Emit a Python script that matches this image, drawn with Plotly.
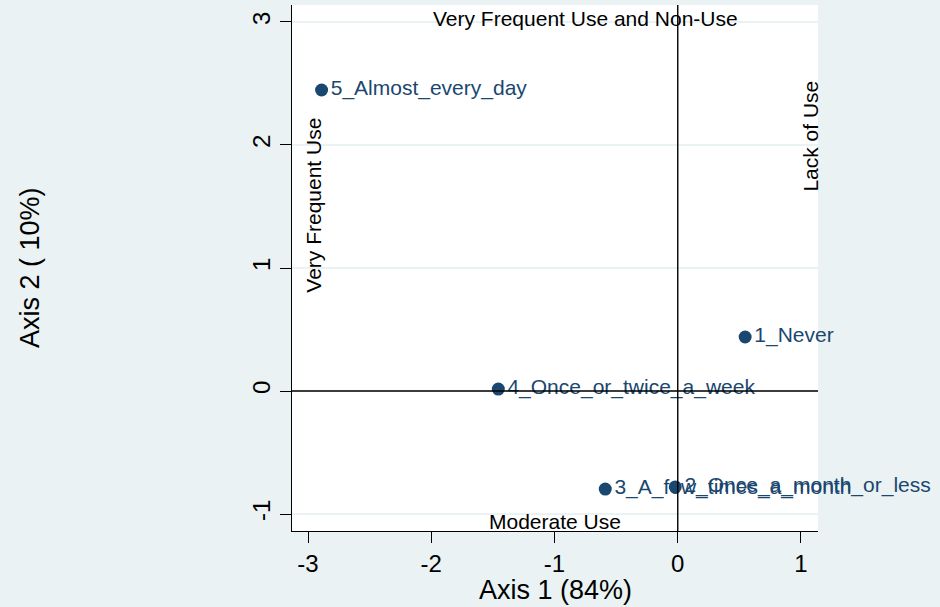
import plotly.graph_objects as go

categories = ["1_Never", "2_Once_a_month_or_less", "3_A_few_times_a_month",
              "4_Once_or_twice_a_week", "5_Almost_every_day"]
axis1 = [0.547, -0.02, -0.588, -1.456, -2.89]
axis2 = [0.439, -0.78, -0.797, 0.016, 2.447]
x_ticks = [-3, -2, -1, 0, 1]
x_ticktext = ["-3", "-2", "-1", "0", "1"]
y_ticks = [-1, 0, 1, 2, 3]
y_ticktext = ["-1", "0", "1", "2", "3"]

navy = "#1a476f"
bg = "#eaf2f3"
font = "Liberation Sans, Arial, sans-serif"

fig = go.Figure()
fig.add_trace(go.Scatter(
    x=axis1, y=axis2, mode="markers+text", text=categories,
    textposition="middle right", cliponaxis=False,
    marker=dict(color=navy, size=13),
    textfont=dict(color=navy, size=21, family=font),
    showlegend=False,
))

fig.add_hline(y=0, line=dict(color="black", width=1.4))
fig.add_vline(x=0, line=dict(color="black", width=1.4))

fig.update_xaxes(range=[-3.13, 1.138], tickvals=x_ticks, ticktext=x_ticktext, showgrid=False,
                 zeroline=False, automargin=False,
                 showline=True, linecolor="black", linewidth=1.4, ticks="outside",
                 ticklen=11, tickcolor="black", tickfont=dict(size=24, family=font, color="black"))
fig.update_yaxes(range=[-1.138, 3.138], tickvals=y_ticks, ticktext=y_ticktext, showgrid=True,
                 gridcolor=bg, gridwidth=2, automargin=False,
                 zeroline=False, showline=True, linecolor="black", linewidth=1.4, ticks="outside",
                 ticklen=11, tickcolor="black", tickangle=-90,
                 tickfont=dict(size=24, family=font, color="black"))

txt = dict(size=21, family=font, color="black")
annots = [
    dict(x=(555 - 677.5) / 123.3, y=-(590 - 531) / 526, xref="x", yref="paper",
         text="Axis 1 (84%)", showarrow=False, xanchor="center", yanchor="middle",
         font=dict(size=27, family=font, color="black")),
    dict(x=-(292 - 30) / 526, y=0.5, xref="paper", yref="paper", text="Axis 2 ( 10%)",
         showarrow=False, textangle=-90, xanchor="center", yanchor="middle",
         font=dict(size=27, family=font, color="black")),
    dict(x=-0.75, y=3.03, xref="x", yref="y", text="Very Frequent Use and Non-Use",
         showarrow=False, xanchor="center", yanchor="middle", font=txt),
    dict(x=-0.995, y=-1.057, xref="x", yref="y", text="Moderate Use", showarrow=False,
         xanchor="center", yanchor="middle", font=txt),
    dict(x=-2.956, y=1.51, xref="x", yref="y", text="Very Frequent Use", showarrow=False,
         textangle=-90, xanchor="center", yanchor="middle", font=txt),
    dict(x=1.075, y=2.07, xref="x", yref="y", text="Lack of Use", showarrow=False,
         textangle=-90, xanchor="center", yanchor="middle", font=txt),
]
fig.update_layout(annotations=annots)

fig.update_layout(
    width=940, height=607,
    margin=dict(l=292, r=122, t=5, b=76),
    paper_bgcolor=bg, plot_bgcolor="white",
)
fig.write_html("out.html", config={"displayModeBar": False},
               post_script="document.body.style.margin='0px';document.body.style.overflow='hidden';")
